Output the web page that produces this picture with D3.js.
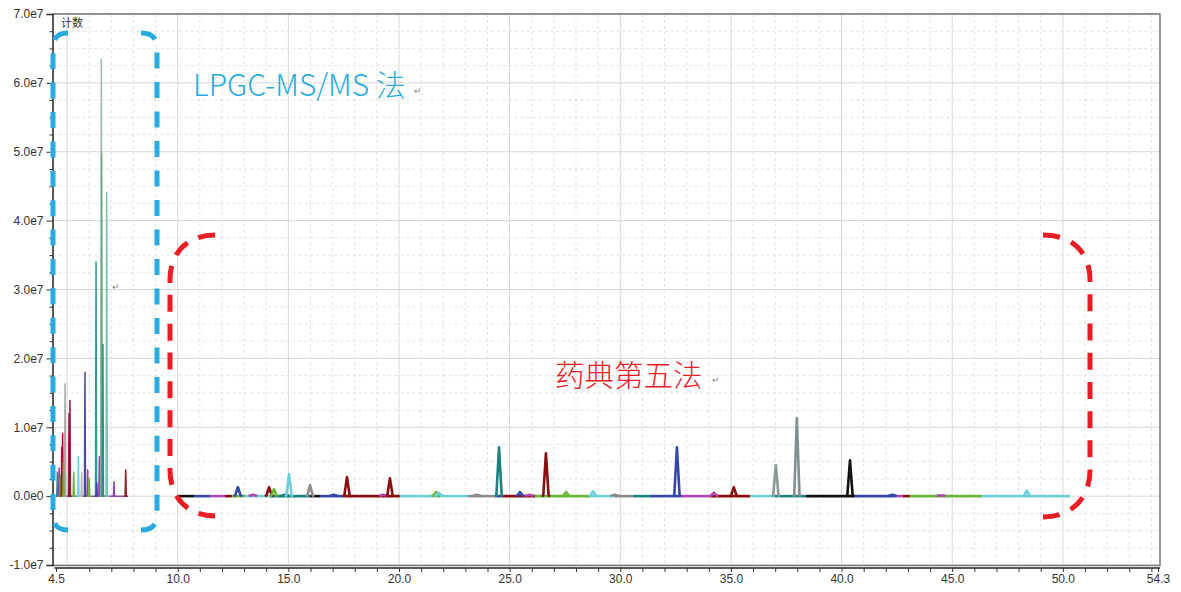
<!DOCTYPE html>
<html><head><meta charset="utf-8">
<script src="https://cdn.jsdelivr.net/npm/d3@7"></script>
<style>html,body{margin:0;background:#fff;}svg{display:block;}</style>
</head><body>
<svg id="chart" width="1181" height="592"></svg>
<script>
// ---- axis definitions ----
const xDomain = [4.5, 54.3];
const yDomain = [-1e7, 7e7];
const xTickLabels = [4.5, 10, 15, 20, 25, 30, 35, 40, 45, 50, 54.3];
const yTickValues = [-1e7, 0, 1e7, 2e7, 3e7, 4e7, 5e7, 6e7, 7e7];

// ---- LPGC-MS/MS method: retention time (min), counts, colour ----
const lpTimes  = [4.56, 4.64, 4.70, 4.76, 4.80, 4.91, 4.84, 5.09, 5.13, 5.30, 5.51, 5.66, 5.81, 5.93, 6.00, 6.31, 6.34, 6.46, 6.55, 6.56, 6.62, 6.79, 7.12, 7.65];
const lpCounts = [0.35e7, 0.41e7, 0.30e7, 0.71e7, 0.91e7, 1.63e7, 0.50e7, 1.20e7, 1.39e7, 0.35e7, 0.57e7, 0.34e7, 1.80e7, 0.38e7, 0.26e7, 3.40e7, 0.19e7, 0.57e7, 6.34e7, 4.97e7, 2.20e7, 4.41e7, 0.21e7, 0.38e7];
const lpColors = ["#2a8c8c", "#8a44aa", "#6ab63a", "#b0103a", "#a01030", "#a8a8a8", "#6ab63a", "#a01040", "#8b1a3a", "#6ab63a", "#6ccfdc", "#b8b8b8", "#4a4aa0", "#a040a0", "#6ab63a", "#2a9d8f", "#3548a8", "#9944aa", "#9bb8a8", "#6aaa80", "#2a8c8c", "#72c4b0", "#9040b0", "#8b1a1a"];
const lpBaseline = [4.55, 7.75];

// ---- Pharmacopoeia method 5: compound windows along the baseline ----
const phStart  = [10.00, 10.74, 11.46, 12.14, 12.45, 13.04, 14.17, 15.98, 16.43, 17.56, 20.04, 21.63, 21.85, 23.12, 24.34, 24.70, 26.15, 28.63, 29.76, 30.57, 31.34, 32.70, 34.05, 35.86, 36.99, 38.39, 40.60, 42.41, 42.77, 43.09, 46.34];
const phEnd    = [10.74, 11.46, 12.14, 12.45, 13.04, 14.17, 15.98, 16.43, 17.56, 20.04, 21.63, 21.85, 23.12, 24.34, 24.70, 26.15, 28.63, 29.76, 30.57, 31.34, 32.70, 34.05, 35.86, 36.99, 38.39, 40.60, 42.41, 42.77, 43.09, 46.34, 50.32];
const phColors = ["#111111", "#3548a8", "#b048b0", "#8b0e0e", "#6ab63a", "#6ccfdc", "#1a8080", "#111111", "#3548a8", "#8b0e0e", "#6ccfdc", "#6ab63a", "#6ccfdc", "#8c8c8c", "#3548a8", "#8b0e0e", "#6ab63a", "#6ccfdc", "#8c8c8c", "#1a8080", "#3548a8", "#b048b0", "#8b0e0e", "#6ccfdc", "#1a8080", "#111111", "#3548a8", "#b048b0", "#8b0e0e", "#6ab63a", "#6ccfdc"];

// peaks: retention time (min), counts, colour
const phPeakTimes  = [12.72, 13.40, 14.13, 14.35, 14.85, 15.03, 15.98, 17.05, 17.65, 19.30, 19.59, 21.67, 21.80, 23.52, 24.52, 25.47, 25.90, 26.64, 27.55, 28.77, 29.75, 32.56, 34.23, 35.13, 37.03, 37.98, 40.38, 42.30, 44.50, 48.37];
const phPeakCounts = [0.13e7, 0.02e7, 0.13e7, 0.10e7, 0.02e7, 0.32e7, 0.16e7, 0.02e7, 0.275e7, 0.02e7, 0.26e7, 0.06e7, 0.05e7, 0.02e7, 0.71e7, 0.06e7, 0.02e7, 0.62e7, 0.06e7, 0.07e7, 0.02e7, 0.71e7, 0.05e7, 0.13e7, 0.45e7, 1.13e7, 0.52e7, 0.02e7, 0.01e7, 0.08e7];
const phPeakColors = ["#3548a8", "#b048b0", "#8b0e0e", "#6ab63a", "#1a8080", "#6ccfdc", "#8c8c8c", "#3548a8", "#8b0e0e", "#b048b0", "#8b0e0e", "#6ab63a", "#6ccfdc", "#8c8c8c", "#1a8080", "#3548a8", "#b048b0", "#8b0e0e", "#6ab63a", "#6ccfdc", "#8c8c8c", "#3548a8", "#b048b0", "#8b0e0e", "#8a9898", "#7f9090", "#111111", "#3548a8", "#b048b0", "#6ccfdc"];

// ---- layout ----
const svg = d3.select("#chart");
const frame = {left: 52.5, right: 1160, top: 14, bottom: 565.5};
const x = d3.scaleLinear().domain(xDomain).range([56, 1158]);
const y = d3.scaleLinear().domain(yDomain).range([565, 14]);
const font = "'Liberation Sans', Arial, sans-serif";

// grid: dashed minor lines, solid major lines
const grid = svg.append("g");
const xMinor = d3.range(5, 55, 1).filter(v => v % 5 !== 0);
const xMajor = d3.range(5, 55, 5);
const yMinor = d3.range(-1e7, 7e7 + 1, 2.5e6).filter(v => Math.abs(v % 1e7) > 1);
grid.selectAll(".xm").data(xMinor).join("line")
  .attr("x1", d => x(d)).attr("x2", d => x(d)).attr("y1", frame.top).attr("y2", frame.bottom)
  .attr("stroke", "#e2e2e2").attr("stroke-dasharray", "3,3");
grid.selectAll(".ym").data(yMinor).join("line")
  .attr("x1", frame.left).attr("x2", frame.right).attr("y1", d => y(d)).attr("y2", d => y(d))
  .attr("stroke", "#e2e2e2").attr("stroke-dasharray", "3,3");
grid.selectAll(".xM").data(xMajor).join("line")
  .attr("x1", d => x(d)).attr("x2", d => x(d)).attr("y1", frame.top).attr("y2", frame.bottom)
  .attr("stroke", "#d6d6d6");
grid.selectAll(".yM").data(yTickValues).join("line")
  .attr("x1", frame.left).attr("x2", frame.right).attr("y1", d => y(d)).attr("y2", d => y(d))
  .attr("stroke", "#d6d6d6");

// traces
const line = d3.line().x(d => x(d[0])).y(d => y(d[1]));
const traces = svg.append("g").attr("fill", "none").attr("stroke-linejoin", "round");

// LPGC-MS/MS baseline and peaks
traces.append("path").attr("d", line([[lpBaseline[0], 0], [lpBaseline[1], 0]]))
  .attr("stroke", "#9a50b0").attr("stroke-width", 1.5);
const lpW = 0.025;
traces.selectAll(".lp").data(lpTimes.map((t, i) => ({t, c: lpCounts[i], col: lpColors[i]})))
  .join("path")
  .attr("d", d => line([[d.t - 0.08, 0], [d.t - lpW, 0], [d.t, d.c], [d.t + lpW, 0], [d.t + 0.08, 0]]))
  .attr("stroke", d => d.col).attr("stroke-width", 1.5);

// pharmacopoeia baseline windows
traces.selectAll(".seg").data(phStart.map((s, i) => ({s, e: phEnd[i], col: phColors[i]})))
  .join("path")
  .attr("d", d => line([[d.s, 0], [d.e, 0]]))
  .attr("stroke", d => d.col).attr("stroke-width", 2.6);

// pharmacopoeia peaks
const phW = 0.12;
traces.selectAll(".pk").data(phPeakTimes.map((t, i) => ({t, c: phPeakCounts[i], col: phPeakColors[i]})))
  .join("path")
  .attr("d", d => line([[d.t - phW * 1.6, 0], [d.t - phW, 0.01e7], [d.t, d.c], [d.t + phW, 0.01e7], [d.t + phW * 1.6, 0]]))
  .attr("stroke", d => d.col).attr("stroke-width", 2.6);

// frame
svg.append("path")
  .attr("d", `M${frame.left},${frame.top}H${frame.right}V${frame.bottom}H${frame.left}`)
  .attr("fill", "none").attr("stroke", "#777").attr("stroke-width", 1.5);

// y axis
svg.append("g").attr("transform", `translate(${frame.left},0)`)
  .call(d3.axisLeft(y).tickValues(yTickValues).tickSize(6).tickPadding(3)
    .tickFormat(d => d === 0 ? "0.0e0" : (d / 1e7).toFixed(1) + "e7"));
svg.append("g").attr("transform", `translate(${frame.left},0)`)
  .call(d3.axisLeft(y).tickValues(yMinor).tickSize(3).tickFormat(""))
  .select(".domain").remove();

// x axis
const xAxisY = 568;
const xAxis = svg.append("g").attr("transform", `translate(0,${xAxisY})`)
  .call(d3.axisBottom(x).tickValues(xTickLabels).tickSize(4).tickPadding(2)
    .tickFormat(d => d.toFixed(1)));
svg.append("g").attr("transform", `translate(0,${xAxisY})`)
  .call(d3.axisBottom(x).tickValues(xMinor).tickSize(4).tickFormat(""))
  .select(".domain").remove();
xAxis.select(".domain").attr("d", `M${frame.left + 2},0H${frame.right}`);

svg.selectAll(".tick text").attr("font-family", font).attr("font-size", 12).attr("fill", "#333");
svg.selectAll(".domain").attr("stroke", "#222").attr("stroke-width", 1.5);
svg.selectAll(".tick line").attr("stroke", "#333");

// unit label
svg.append("text").attr("x", 61).attr("y", 27).text("计数")
  .attr("font-family", "'Noto Sans CJK SC', sans-serif").attr("font-size", 11).attr("fill", "#333");

// bracket annotations; dash gaps are stretched so both ends finish on a dash
const blue = "#29abe2", red = "#ec1c24";
const brackets = [
  {d: "M68,33 Q53,33 53,48 L53,515 Q53,530 68,530", col: blue, dash: 16, gap: 13},
  {d: "M141,33 Q157,33 157,48 L157,515 Q157,530 141,530", col: blue, dash: 16, gap: 13},
  {d: "M215,235 C188,235 170,252 170,280 L170,470 C170,498 188,516 215,516", col: red, dash: 17, gap: 11},
  {d: "M1043,235 C1072,235 1090,252 1090,280 L1090,470 C1090,498 1072,517 1043,517", col: red, dash: 17, gap: 11}
];
const ann = svg.append("g").attr("fill", "none").attr("stroke-width", 5);
brackets.forEach(b => {
  const p = ann.append("path").attr("d", b.d).attr("stroke", b.col);
  const L = p.node().getTotalLength();
  const n = Math.round((L + b.gap) / (b.dash + b.gap));
  const g = (L - n * b.dash) / (n - 1);
  p.attr("stroke-dasharray", `${b.dash},${g}`);
});

// method titles
const cjk = "'Noto Sans CJK SC', 'Noto Sans', sans-serif";
svg.append("text").attr("x", 193).attr("y", 96).text("LPGC-MS/MS 法")
  .attr("font-family", cjk).attr("font-weight", 300).attr("font-size", 30).attr("fill", blue);
svg.append("text").attr("x", 555).attr("y", 386).text("药典第五法")
  .attr("font-family", cjk).attr("font-weight", 300).attr("font-size", 29.5).attr("fill", red);
// paragraph marks
[[414, 94], [712, 383], [112, 290]].forEach(([px, py]) =>
  svg.append("text").attr("x", px).attr("y", py).text("↵")
    .attr("font-family", font).attr("font-size", 9).attr("fill", "#888"));
</script>
</body></html>
